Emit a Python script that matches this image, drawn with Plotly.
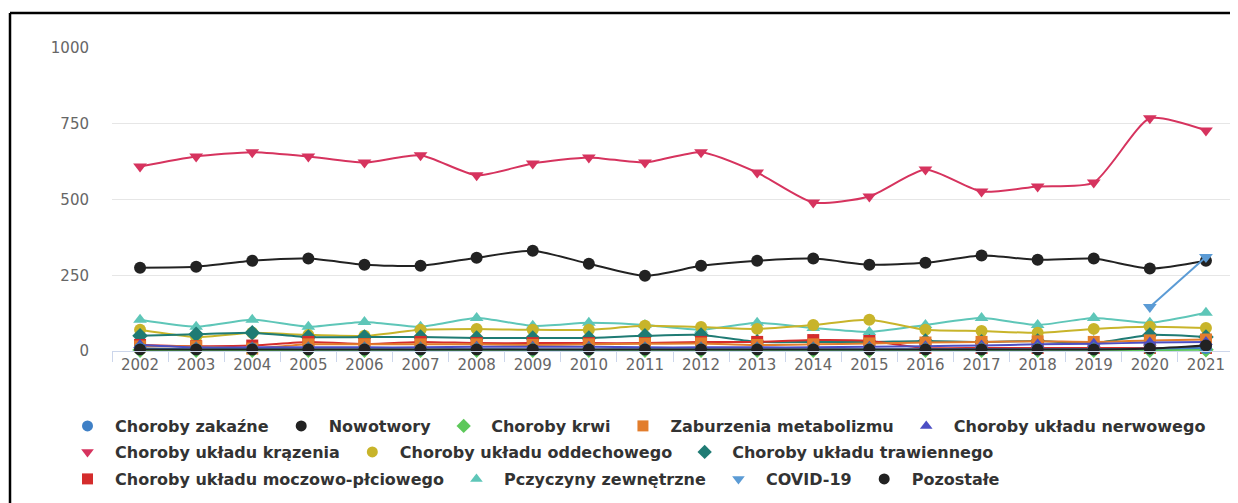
import plotly.graph_objects as go

years = [str(y) for y in range(2002, 2022)]

names = ["Choroby zakaźne", "Nowotwory", "Choroby krwi", "Zaburzenia metabolizmu",
         "Choroby układu nerwowego", "Choroby układu krązenia", "Choroby układu oddechowego",
         "Choroby układu trawiennego", "Choroby układu moczowo-płciowego",
         "Pczyczyny zewnętrzne", "COVID-19", "Pozostałe"]

zakazne = [8, 6, 7, 6, 6, 5, 6, 5, 5, 6, 6, 6, 6, 6, 6, 6, 6, 6, 8, 10]
nowotwory = [275, 278, 298, 305, 285, 281, 308, 331, 288, 248, 281, 298, 305, 285, 291, 315, 301, 305, 272, 298]
krwi = [3, 3, 3, 3, 3, 3, 3, 3, 3, 3, 3, 3, 3, 3, 3, 3, 3, 3, 3, 4]
metabolizm = [15, 15, 8, 22, 22, 22, 22, 20, 22, 24, 25, 20, 22, 25, 28, 30, 32, 30, 35, 38]
nerwowy = [20, 12, 12, 12, 12, 12, 14, 14, 14, 12, 12, 12, 12, 14, 16, 18, 22, 24, 28, 30]
krazenie = [609, 642, 656, 642, 622, 646, 580, 619, 639, 622, 656, 589, 490, 510, 599, 526, 543, 556, 768, 728]
oddechowy = [70, 46, 60, 53, 50, 70, 73, 70, 70, 83, 79, 73, 86, 103, 70, 66, 60, 73, 80, 76]
trawienny = [50, 55, 60, 46, 46, 46, 43, 43, 43, 50, 53, 30, 30, 30, 33, 30, 33, 26, 53, 46]
moczowy = [20, 16, 18, 30, 23, 30, 26, 26, 26, 26, 30, 30, 36, 33, 10, 10, 10, 10, 10, 10]
zewnetrzne = [103, 80, 103, 80, 96, 80, 109, 83, 93, 86, 70, 93, 76, 63, 86, 109, 86, 109, 93, 126]
covid = [None] * 18 + [145, 310]
pozostale = [5, 5, 5, 5, 5, 5, 5, 5, 5, 5, 5, 5, 5, 5, 5, 5, 5, 5, 8, 18]

series = [zakazne, nowotwory, krwi, metabolizm, nerwowy, krazenie, oddechowy,
          trawienny, moczowy, zewnetrzne, covid, pozostale]
colors = ["#3f80c6", "#222222", "#5dc85a", "#e27d2c", "#4c4ec4", "#d6335e",
          "#c8b42a", "#1f7b74", "#d42c2c", "#5ec6b8", "#5b9bd5", "#222222"]
symbols = ["circle", "circle", "diamond", "square", "triangle-up", "triangle-down",
           "circle", "diamond", "square", "triangle-up", "triangle-down", "circle"]
rows = ["legend", "legend", "legend", "legend", "legend",
        "legend2", "legend2", "legend2",
        "legend3", "legend3", "legend3", "legend3"]

fig = go.Figure()
order = [9, 6, 7, 8, 3, 4, 2, 0, 11, 1, 5, 10]
for i in order:
    fig.add_trace(go.Scatter(
        x=years, y=series[i], mode="lines+markers", name=names[i],
        line=dict(color=colors[i], width=2, shape="spline", smoothing=0.6),
        marker=dict(color=colors[i], symbol=symbols[i], size=12),
        showlegend=False, cliponaxis=False, connectgaps=False))
for i in range(len(names)):
    fig.add_trace(go.Scatter(
        x=[None], y=[None], mode="markers", name=names[i],
        marker=dict(color=colors[i], symbol=symbols[i], size=11),
        legend=rows[i], showlegend=True))

OFF = 8  # page body margin
W, H = 1230, 495
L, T = 112 - OFF, 48 - OFF
PR, PB = 1234 - OFF, 351 - OFF
R, B = W - PR, H - PB
pw, ph = PR - L, PB - T
def px(p):
    return (p - OFF - L) / pw
def py(p):
    return (PB - (p - OFF)) / ph

legfont = dict(family="DejaVu Sans", size=16, color="#333333", weight="bold")
def leg(ypix):
    return dict(orientation="h", x=px(60), xanchor="left", y=py(ypix), yanchor="middle",
                font=legfont, bgcolor="rgba(0,0,0,0)", itemwidth=45,
                traceorder="normal", tracegroupgap=0)

tick = dict(family="DejaVu Sans", size=15, color="#666666")
fig.update_layout(
    width=W, height=H,
    margin=dict(l=L, r=R, t=T, b=B),
    paper_bgcolor="white", plot_bgcolor="white",
    legend=leg(426), legend2=leg(452), legend3=leg(479),
    xaxis=dict(type="category", showgrid=False, showline=True, linecolor="#ccd6eb",
               linewidth=1, ticks="outside", ticklen=10, tickcolor="#ccd6eb",
               tickson="boundaries", tickfont=tick,
               range=[-0.5, 19.5], zeroline=False),
    yaxis=dict(range=[0, 1000], tickvals=[0, 250, 500, 750, 1000], showgrid=True,
               gridcolor="#e6e6e6", zeroline=False, showline=False, ticks="",
               ticklabelstandoff=22, tickfont=tick),
    shapes=[
        dict(type="line", xref="paper", yref="paper", x0=px(10), x1=px(10), y0=py(13), y1=py(520),
             line=dict(color="black", width=2.5)),
        dict(type="line", xref="paper", yref="paper", x0=px(10), x1=px(1300), y0=py(13), y1=py(13),
             line=dict(color="black", width=2.5)),
    ],
)

fig.write_html("out.html")
